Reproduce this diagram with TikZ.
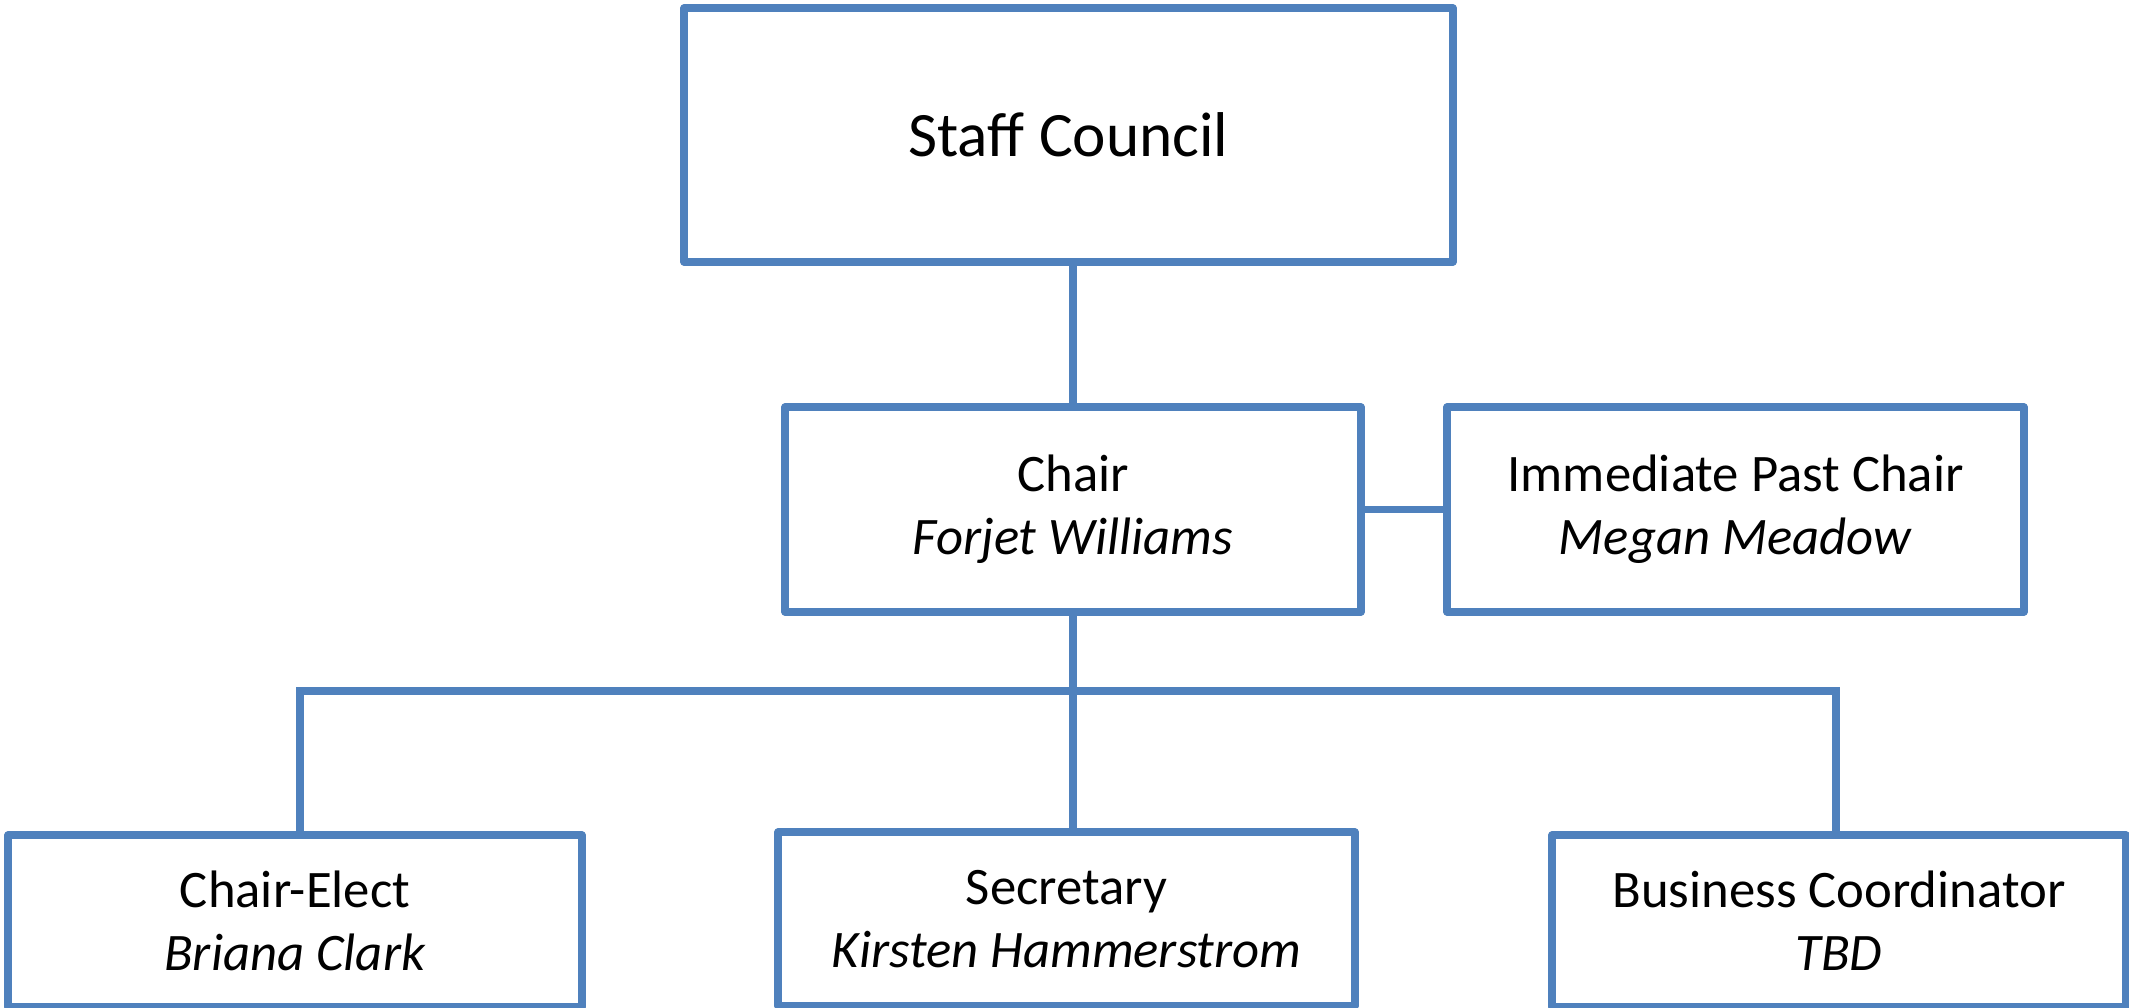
\documentclass[tikz,border=0pt]{standalone}
\usepackage{fontspec}
\setmainfont{Carlito}
\usepackage{tikz}

\definecolor{orgblue}{HTML}{4F81BD}

\tikzset{
    box/.style={draw=orgblue, line width=2pt, line join=round, align=center,
        inner sep=0pt, font=\fontsize{15}{18}\selectfont},
    link/.style={draw=orgblue, line width=2pt}
}

\begin{document}
\begin{tikzpicture}
    % Page frame
    \useasboundingbox (0,0) rectangle (21.29,-10.08);

    % Top box
    \node[box, minimum width=7.69cm, minimum height=2.54cm,
          font=\fontsize{18}{22}\selectfont] (council) at (10.685,-1.35) {Staff Council};

    % Middle row
    \node[box, minimum width=5.76cm, minimum height=2.05cm] (chair) at (10.73,-5.095)
        {Chair\\\textit{Forjet Williams}};
    \node[box, minimum width=5.77cm, minimum height=2.05cm] (past) at (17.355,-5.095)
        {Immediate Past Chair\\\textit{Megan Meadow}};

    % Bottom row (cut by the page edge)
    \node[box, minimum width=5.74cm, minimum height=1.72cm] (elect) at (2.95,-9.21)
        {Chair-Elect\\\textit{Briana Clark}};
    \node[box, minimum width=5.77cm, minimum height=1.74cm] (secretary) at (10.665,-9.19)
        {Secretary\\\textit{Kirsten Hammerstrom}};
    \node[box, minimum width=5.74cm, minimum height=1.72cm] (business) at (18.39,-9.21)
        {Business Coordinator\\\textit{TBD}};

    % Ends of the bar
    \coordinate (barL) at (3.00,-6.91);
    \coordinate (barR) at (18.36,-6.91);

    % Connectors
    \draw[link] (chair.north |- council.south) -- (chair.north);
    \draw[link] (chair.east) -- (past.west);
    \draw[link] (chair.south) -- (chair.south |- secretary.north);
    \draw[link] (barL |- elect.north) -- (barL) -- (barR) -- (barR |- business.north);
\end{tikzpicture}
\end{document}
